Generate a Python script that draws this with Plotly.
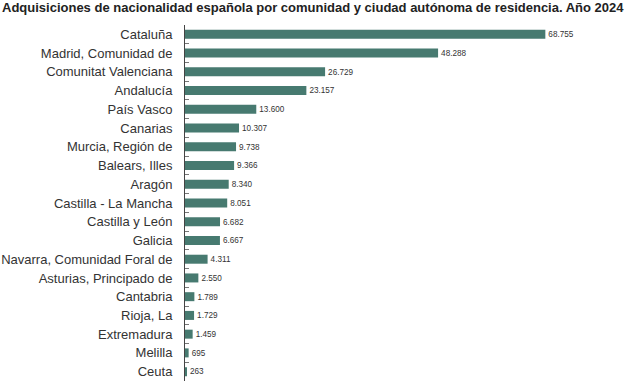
import plotly.graph_objects as go

regions = ["Cataluña", "Madrid, Comunidad de", "Comunitat Valenciana", "Andalucía",
           "País Vasco", "Canarias", "Murcia, Región de", "Balears, Illes", "Aragón",
           "Castilla - La Mancha", "Castilla y León", "Galicia",
           "Navarra, Comunidad Foral de", "Asturias, Principado de", "Cantabria",
           "Rioja, La", "Extremadura", "Melilla", "Ceuta"]
values = [68755, 48288, 26729, 23157, 13600, 10307, 9738, 9366, 8340, 8051,
          6682, 6667, 4311, 2550, 1789, 1729, 1459, 695, 263]
labels = [f"{v:,}".replace(",", ".") for v in values]

fig = go.Figure(go.Bar(
    x=values, y=regions, orientation="h",
    marker=dict(color="#477a70", line=dict(width=0)),
    text=labels, textposition="outside", cliponaxis=False,
    textfont=dict(size=10, color="#333333", family="Liberation Sans, Arial, sans-serif"),
    hoverinfo="skip",
))

fig.update_layout(
    width=640, height=391,
    margin=dict(l=185, r=20, t=25, b=10, autoexpand=False),
    paper_bgcolor="white", plot_bgcolor="white",
    bargap=0.52,
    showlegend=False,
    title=dict(text="<b>Adquisiciones de nacionalidad española por comunidad y ciudad autónoma de residencia. Año 2024</b>",
               xref="container", x=0, xanchor="left", yref="container", y=1, yanchor="top",
               pad=dict(l=2, t=3, b=0, r=0),
               font=dict(size=13, color="#222222", family="Liberation Sans, Arial, sans-serif")),
    font=dict(family="Liberation Sans, Arial, sans-serif", color="#333333"),
)
fig.update_xaxes(range=[0, 83000], visible=False, showgrid=False, zeroline=False)
fig.update_yaxes(autorange="reversed", automargin=False, showline=True, linecolor="#444444", linewidth=1,
                 ticks="inside", tickson="boundaries", ticklen=4, tickcolor="#777777",
                 tickfont=dict(size=13, color="#333333"), ticklabelstandoff=9,
                 showgrid=False, zeroline=False)

fig.write_html("out.html", config={"displayModeBar": False},
               post_script="document.body.style.margin='0';")
